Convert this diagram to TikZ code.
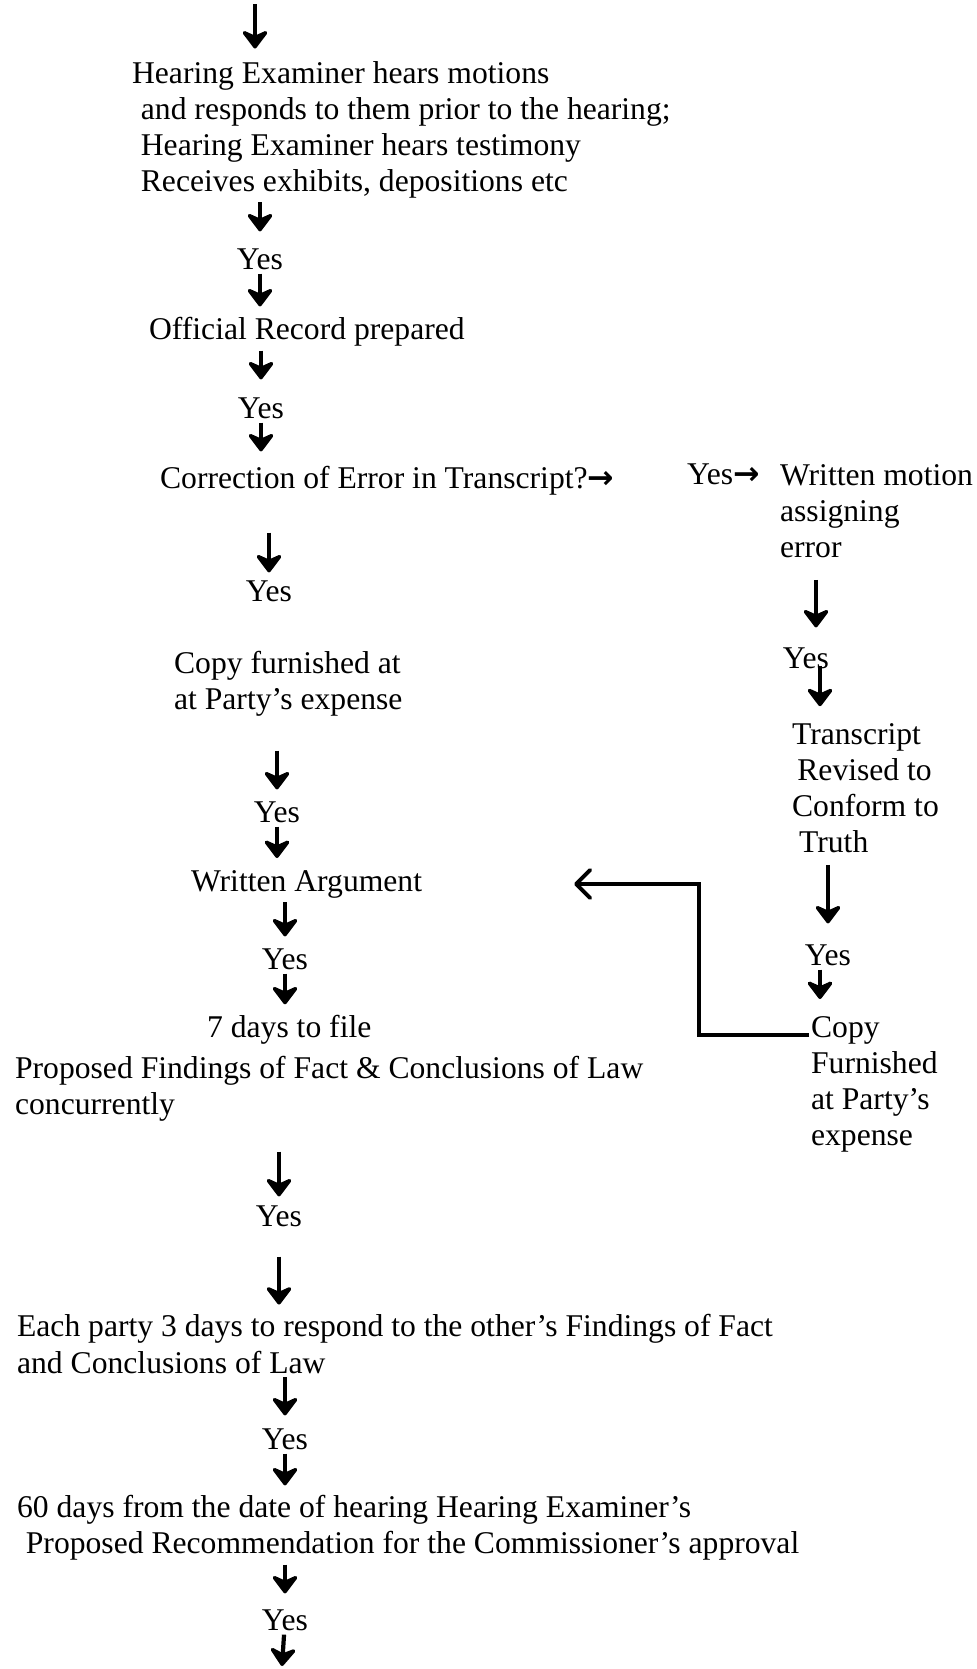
\documentclass[tikz,border=0pt]{standalone}
\usepackage{fontspec}
\setmainfont{Liberation Serif}
\newfontfamily\arrowfont{DejaVu Sans}
\newcommand{\rarr}{{\arrowfont\bfseries →}}
\usetikzlibrary{arrows.meta}

\tikzset{
    txt/.style={anchor=west, align=left, inner sep=1pt, font=\fontsize{18}{20.5}\selectfont},
    yes/.style={inner sep=1pt, font=\fontsize{18}{20.5}\selectfont},
    flow/.style={line width=2.4pt, -{Stealth[length=12pt,width=18pt,inset=4pt,round]}, shorten <=0.4mm, shorten >=2mm},
    backline/.style={line width=2.2pt, -{Straight Barb[length=8pt,width=16pt,round]}},
}

\begin{document}
\begin{tikzpicture}[x=0.2mm, y=-0.2mm]
\useasboundingbox (0,0) rectangle (977,1669);

    % main column
    \coordinate (start) at (255, 2);
    \node[txt] (HE) at (130, 130) {Hearing Examiner hears motions\\
        \hspace*{5pt}and responds to them prior to the hearing;\\
        \hspace*{5pt}Hearing Examiner hears testimony\\
        \hspace*{5pt}Receives exhibits, depositions etc};
    \node[yes] (Y1) at (260, 259) {Yes};
    \node[txt] (OR) at (147, 332) {Official Record prepared};
    \node[yes] (Y2) at (261, 408) {Yes};
    \node[txt] (CE) at (158, 481) {Correction of Error in Transcript?\rarr};
    \node[yes] (Y3) at (269, 591) {Yes};
    \node[txt] (CF) at (172, 684) {Copy furnished at\\at Party’s expense};
    \node[yes] (Y4) at (277, 812) {Yes};
    \node[txt] (WA) at (189, 884) {Written Argument};
    \node[yes] (Y5) at (285, 959) {Yes};
    \node[txt] (SD) at (205, 1030) {7 days to file};
    \node[txt] (PF) at (13, 1089) {Proposed Findings of Fact \& Conclusions of Law\\concurrently};
    \node[yes] (Y6) at (279, 1216) {Yes};
    \node[txt] (EP) at (15, 1344) {Each party 3 days to respond to the other’s Findings of Fact\\and Conclusions of Law};
    \node[yes] (Y7) at (285, 1439) {Yes};
    \node[txt] (SX) at (15, 1528) {60 days from the date of hearing Hearing Examiner’s\\
        \hspace*{5pt}Proposed Recommendation for the Commissioner’s approval};
    \node[yes] (Y8) at (285, 1620) {Yes};
    \coordinate (stop) at (282, 1666);

    % side branch
    \node[txt] (YR) at (685, 474) {Yes\rarr};
    \node[txt] (WM) at (778, 511) {Written motion\\assigning\\error};
    \node[yes] (YR1) at (806, 658) {Yes};
    \node[txt] (TR) at (790, 788) {Transcript\\
        \hspace*{3pt}Revised to\\
        Conform to\\
        \hspace*{4pt}Truth};
    \node[yes] (YR2) at (828, 955) {Yes};
    \node[txt] (CP) at (809, 1084) {Copy\\Furnished\\at Party’s\\expense};

    \draw[flow, shorten >=2.2mm] (start) -- (start |- HE.north);
    \draw[flow, shorten >=3mm] (Y1 |- HE.south) -- (Y1);
    \draw[flow, shorten >=1.8mm] (Y1) -- (Y1 |- OR.north);
    \draw[flow, shorten >=3.2mm] (Y2 |- OR.south) -- (Y2);
    \draw[flow, shorten >=2.6mm] (Y2) -- (Y2 |- CE.north);
    \draw[flow, shorten <=7mm, shorten >=1.2mm] (Y3 |- CE.south) -- (Y3);
    \draw[flow, shorten <=6.4mm] (Y4 |- CF.south) -- (Y4);
    \draw[flow] (Y4) -- (Y4 |- WA.north);
    \draw[flow] (Y5 |- WA.south) -- (Y5);
    \draw[flow, shorten >=1.8mm] (Y5) -- (Y5 |- SD.north);
    \draw[flow, shorten <=5.6mm, shorten >=1.4mm] (Y6 |- PF.south) -- (Y6);
    \draw[flow, shorten <=5.6mm, shorten >=1.6mm] (Y6) -- (Y6 |- EP.north);
    \draw[flow, shorten >=2.2mm] (Y7 |- EP.south) -- (Y7);
    \draw[flow, shorten >=1.6mm] (Y7) -- (Y7 |- SX.north);
    \draw[flow, shorten >=2.8mm] (Y8 |- SX.south) -- (Y8);
    \draw[flow, shorten >=0mm] (Y8) -- (stop);

    \draw[flow, shorten <=4mm, shorten >=3.6mm] ([xshift=2mm]YR1 |- WM.south) -- ([xshift=2mm]YR1.north);
    \draw[flow, shorten <=-1mm, shorten >=3mm] ([xshift=2.8mm]YR1.south) -- ([xshift=2.8mm]YR1.south |- TR.north);
    \draw[flow, shorten <=2mm, shorten >=3.8mm] (YR2 |- TR.south) -- (YR2);
    \draw[flow, shorten >=3mm] ([xshift=-1.6mm]YR2.south) -- ([xshift=-1.6mm]YR2.south |- CP.north);

    \draw[backline, shorten >=30mm] ([yshift=-4.2mm]CP.north west) -- ++(-22mm, 0) |- (WA.east);
\end{tikzpicture}
\end{document}
